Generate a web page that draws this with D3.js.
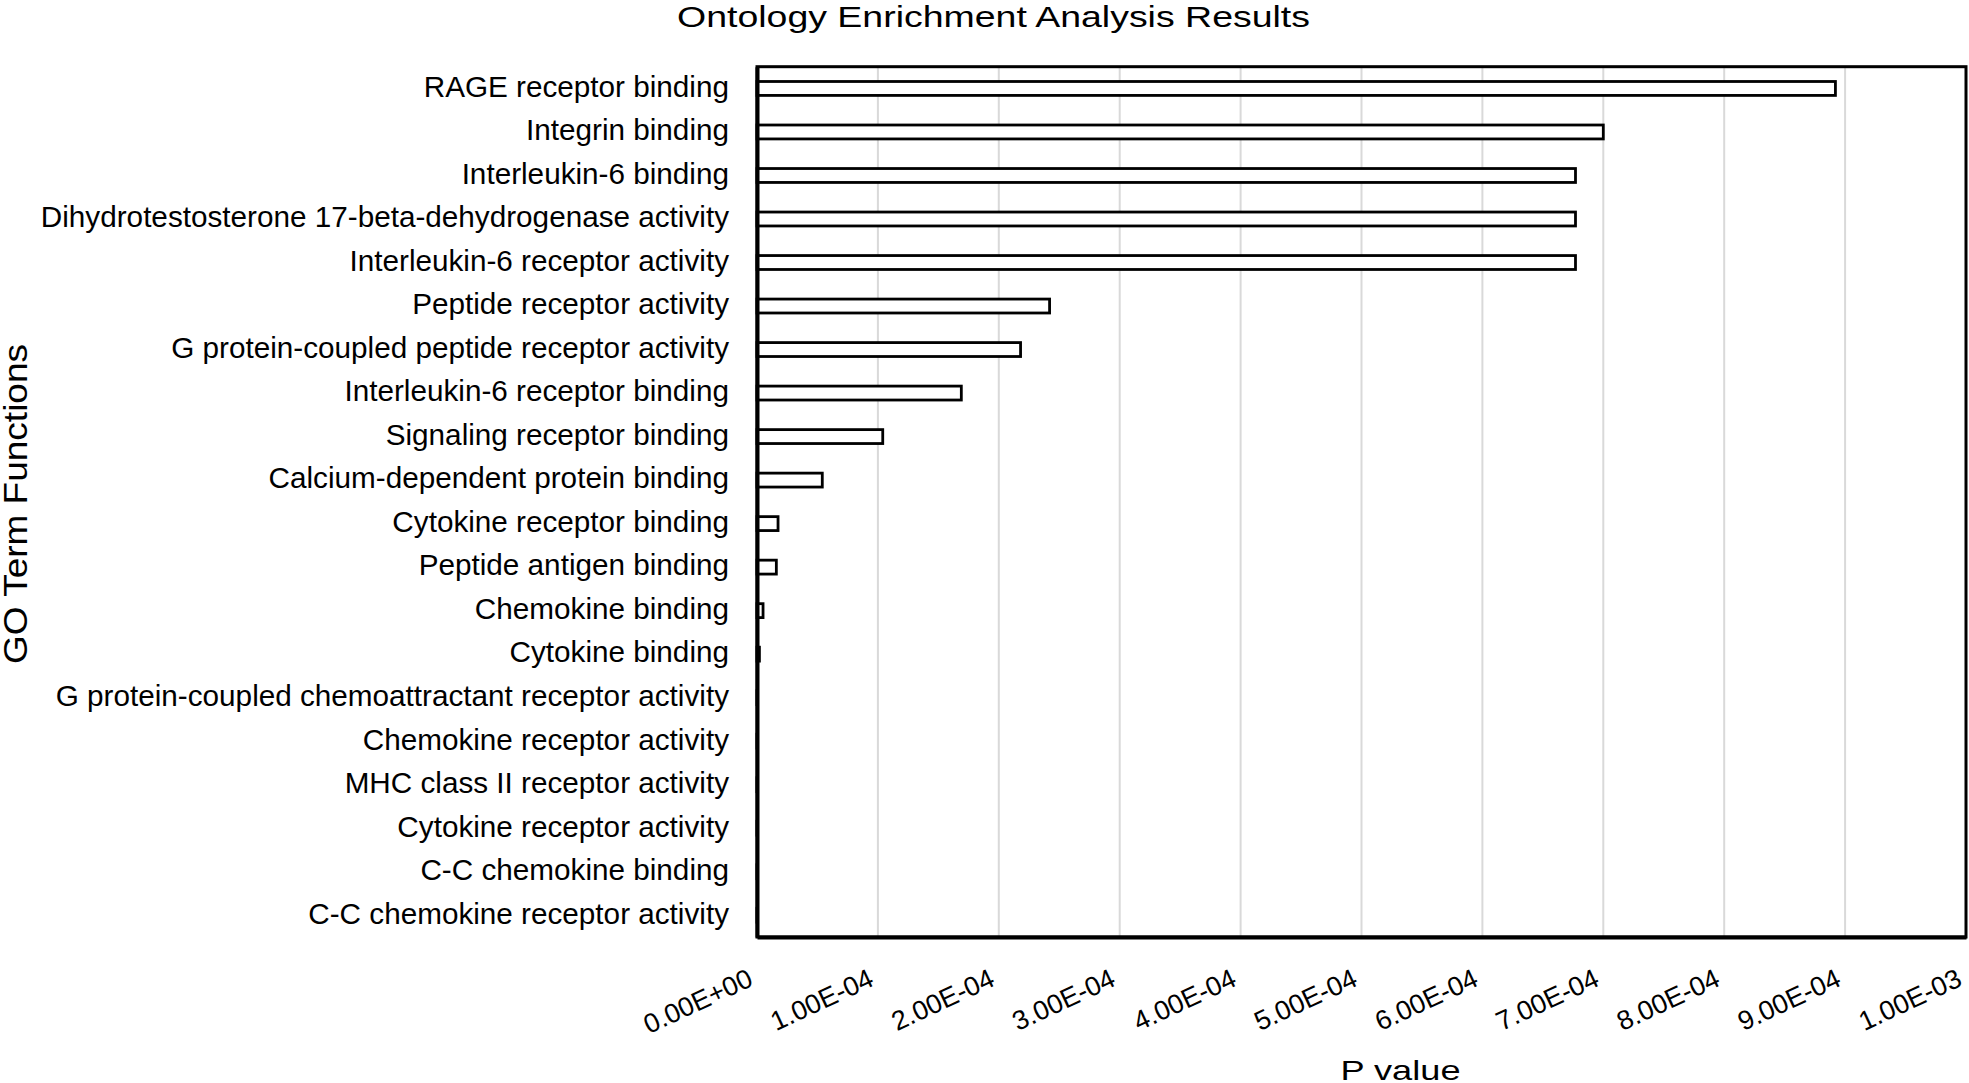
<!DOCTYPE html>
<html>

<head>
    <meta charset="utf-8">
    <title>Ontology Enrichment Analysis Results</title>
    <script src="https://cdnjs.cloudflare.com/ajax/libs/d3/7.8.5/d3.min.js"></script>
    <style>
        body { margin: 0; background: #fff; }
        text { font-family: "Liberation Sans", Arial, sans-serif; fill: #000; }
    </style>
</head>

<body>
    <script>
        var W = 1969, H = 1083;
        // plot frame edges (window.top is reserved, so no bare "top")
        var plotLeft = 757, plotRight = 1966, plotTop = 66.7, plotBottom = 937;

        var terms = [
            "RAGE receptor binding",
            "Integrin binding",
            "Interleukin-6 binding",
            "Dihydrotestosterone 17-beta-dehydrogenase activity",
            "Interleukin-6 receptor activity",
            "Peptide receptor activity",
            "G protein-coupled peptide receptor activity",
            "Interleukin-6 receptor binding",
            "Signaling receptor binding",
            "Calcium-dependent protein binding",
            "Cytokine receptor binding",
            "Peptide antigen binding",
            "Chemokine binding",
            "Cytokine binding",
            "G protein-coupled chemoattractant receptor activity",
            "Chemokine receptor activity",
            "MHC class II receptor activity",
            "Cytokine receptor activity",
            "C-C chemokine binding",
            "C-C chemokine receptor activity"
        ];
        var pValues = [
            8.92e-4, 7.00e-4, 6.77e-4, 6.77e-4, 6.77e-4,
            2.42e-4, 2.18e-4, 1.69e-4, 1.04e-4, 5.4e-5,
            1.74e-5, 1.6e-5, 5e-6, 2e-6, 5e-7,
            5e-7, 4e-7, 3e-7, 3e-7, 2e-7
        ];
        var xTicks = [0, 1e-4, 2e-4, 3e-4, 4e-4, 5e-4, 6e-4, 7e-4, 8e-4, 9e-4, 1e-3];
        var xTickLabels = ["0.00E+00", "1.00E-04", "2.00E-04", "3.00E-04", "4.00E-04",
            "5.00E-04", "6.00E-04", "7.00E-04", "8.00E-04", "9.00E-04", "1.00E-03"];

        var svg = d3.select("body")
            .append("svg")
            .attr("width", W)
            .attr("height", H);

        var x = d3.scaleLinear()
            .domain([0, 1e-3])
            .range([plotLeft, plotRight]);

        var y = d3.scaleBand()
            .domain(terms)
            .range([plotTop, plotBottom])
            .paddingInner(0.68)
            .paddingOuter(0.34);

        // light vertical gridlines
        svg.append("g")
            .selectAll("line")
            .data(xTicks)
            .enter()
            .append("line")
            .attr("x1", function(d) { return x(d); })
            .attr("x2", function(d) { return x(d); })
            .attr("y1", plotTop)
            .attr("y2", plotBottom)
            .attr("stroke", "#d9d9d9")
            .attr("stroke-width", 2);

        // bars
        svg.append("g")
            .selectAll("rect")
            .data(pValues)
            .enter()
            .append("rect")
            .attr("x", x(0))
            .attr("y", function(d, i) { return y(terms[i]); })
            .attr("width", function(d) { return x(d) - x(0); })
            .attr("height", y.bandwidth())
            .attr("fill", "#fff")
            .attr("stroke", "#000")
            .attr("stroke-width", 2.8);

        // plot frame
        svg.append("rect")
            .attr("x", plotLeft)
            .attr("y", plotTop)
            .attr("width", plotRight - plotLeft)
            .attr("height", plotBottom - plotTop)
            .attr("fill", "none")
            .attr("stroke", "#000")
            .attr("stroke-width", 3);

        // y axis (category labels)
        var yAxis = svg.append("g")
            .attr("transform", "translate(" + plotLeft + ",0)")
            .call(d3.axisLeft(y).tickSize(0).tickPadding(28));
        yAxis.select(".domain").attr("stroke", "#000").attr("stroke-width", 4);
        yAxis.selectAll("text")
            .attr("dy", "0.28em")
            .style("font-size", "29.7px")
            .style("font-family", "'Liberation Sans', Arial, sans-serif");

        // x axis (rotated tick labels)
        var xAxis = svg.append("g")
            .attr("transform", "translate(0," + plotBottom + ")")
            .call(d3.axisBottom(x)
                .tickValues(xTicks)
                .tickSize(0)
                .tickFormat(function(d, i) { return xTickLabels[i]; }));
        xAxis.select(".domain").attr("stroke", "#000").attr("stroke-width", 4);
        xAxis.selectAll("text")
            .attr("x", -3)
            .attr("y", 48)
            .attr("dy", 0)
            .attr("text-anchor", "end")
            .attr("transform", "rotate(-25,-3,48)")
            .style("font-size", "27px")
            .style("font-family", "'Liberation Sans', Arial, sans-serif");

        // titles
        svg.append("text")
            .attr("x", 677)
            .attr("y", 27.3)
            .attr("textLength", 633)
            .attr("lengthAdjust", "spacingAndGlyphs")
            .style("font-size", "29px")
            .text("Ontology Enrichment Analysis Results");

        svg.append("text")
            .attr("x", 1340.5)
            .attr("y", 1080)
            .attr("textLength", 120)
            .attr("lengthAdjust", "spacingAndGlyphs")
            .style("font-size", "28px")
            .text("P value");

        svg.append("text")
            .attr("transform", "translate(27,664) rotate(-90)")
            .attr("x", 0)
            .attr("y", 0)
            .attr("textLength", 320)
            .attr("lengthAdjust", "spacingAndGlyphs")
            .style("font-size", "34px")
            .text("GO Term Functions");
    </script>
</body>

</html>
